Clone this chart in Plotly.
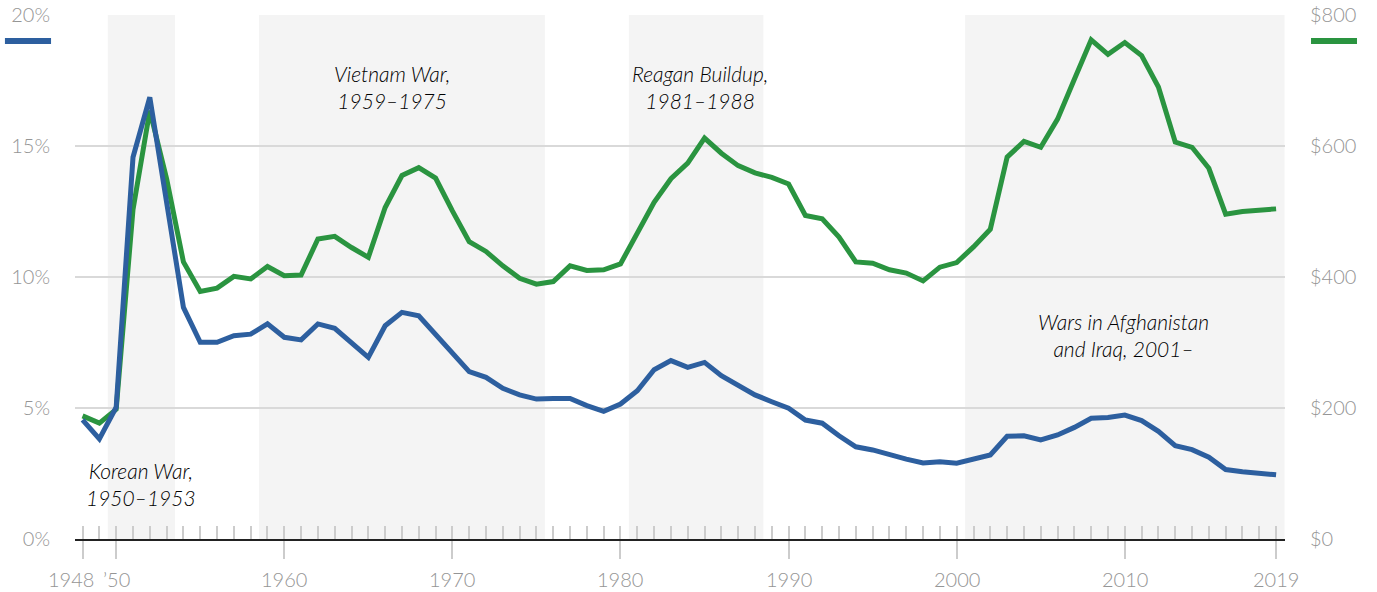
import plotly.graph_objects as go

# ---------------- data ----------------
years = list(range(1948, 2020))

pct_gdp = [4.55, 3.82, 5.03, 14.57, 16.86, 12.8, 8.84, 7.51, 7.51, 7.76,
           7.82, 8.21, 7.70, 7.60, 8.21, 8.04, 7.51, 6.93, 8.14, 8.65,
           8.52, 7.82, 7.12, 6.39, 6.17, 5.75, 5.50, 5.34, 5.36, 5.36,
           5.09, 4.87, 5.15, 5.66, 6.46, 6.81, 6.55, 6.74, 6.23, 5.85,
           5.50, 5.24, 4.99, 4.54, 4.42, 3.94, 3.52, 3.40, 3.21, 3.05,
           2.90, 2.95, 2.89, 3.05, 3.21, 3.92, 3.94, 3.78, 3.97, 4.26,
           4.61, 4.64, 4.73, 4.52, 4.11, 3.56, 3.41, 3.12, 2.65, 2.57,
           2.51, 2.45]

spending = [188, 177, 198, 503, 654, 550, 423, 378, 383, 401,
            397, 416, 402, 403, 458, 462, 445, 430, 506, 555,
            567, 551, 501, 454, 439, 417, 398, 389, 393, 417,
            410, 411, 420, 468, 514, 550, 574, 612, 589, 570,
            559, 552, 542, 494, 489, 461, 423, 421, 411, 406,
            394, 415, 422, 446, 473, 583, 607, 598, 641, 702,
            762, 740, 758, 738, 690, 606, 598, 566, 496, 500,
            502, 504]

war_labels = ["Korean War,<br>1950–1953", "Vietnam War,<br>1959–1975",
              "Reagan Buildup,<br>1981–1988", "Wars in Afghanistan<br>and Iraq, 2001–"]
war_start = [1950, 1959, 1981, 2001]
war_end = [1953, 1975, 1988, 2019]
label_year = [1951.5, 1966.4, 1984.7, 2009.9]
label_pct = [2.1, 17.25, 17.25, 7.8]

x_tick_years = [1948, 1950, 1960, 1970, 1980, 1990, 2000, 2010, 2019]
x_tick_text = ["1948", "’50", "1960", "1970", "1980", "1990", "2000", "2010", "2019"]

pct_ticks = [0, 5, 10, 15, 20]
pct_text = [f"{v}%" for v in pct_ticks]
usd_ticks = [0, 200, 400, 600, 800]
usd_text = [f"${v}" for v in usd_ticks]

# ---------------- style ----------------
BLUE = "#2d5f9f"
GREEN = "#2a9440"
GRAY_TXT = "#959595"
FONT = "Lato"
XRANGE = [1947.55, 2019.53]

fig = go.Figure()

# green (dollars) on primary y (right side), blue (% GDP) on overlaying y2 (left) so blue sits on top
fig.add_trace(go.Scatter(x=years, y=spending, mode="lines", yaxis="y", xaxis="x",
                         line=dict(color=GREEN, width=5), hoverinfo="skip"))
fig.add_trace(go.Scatter(x=years, y=pct_gdp, mode="lines", yaxis="y2", xaxis="x",
                         line=dict(color=BLUE, width=5), hoverinfo="skip"))
# dummy trace to host the minor-tick axis
fig.add_trace(go.Scatter(x=years, y=[None] * len(years), mode="lines", xaxis="x2", yaxis="y",
                         hoverinfo="skip", showlegend=False))

# shaded bands for war periods
for s, e in zip(war_start, war_end):
    fig.add_shape(type="rect", xref="x", yref="paper",
                  x0=s - 0.5, x1=min(e + 0.5, XRANGE[1]), y0=0, y1=1,
                  fillcolor="#f4f4f4", line=dict(width=0), layer="below")

# war annotations
for txt, xv, yv in zip(war_labels, label_year, label_pct):
    fig.add_annotation(x=xv, y=yv, xref="x", yref="y2", text=txt, showarrow=False,
                       font=dict(family=FONT, size=21, color="#000000", style="italic", weight=300),
                       align="center", xanchor="center", yanchor="middle")

# x tick labels
for yr, txt in zip(x_tick_years, x_tick_text):
    shift = -12 if yr == x_tick_years[0] else 0
    fig.add_annotation(x=yr, y=0, xref="x", yref="paper", text=txt, showarrow=False,
                       font=dict(family=FONT, size=20, color=GRAY_TXT, weight=300),
                       xanchor="center", yanchor="middle", yshift=-40, xshift=shift)

# legend glyphs
fig.add_shape(type="line", xref="paper", yref="paper", x0=-0.0579, x1=-0.0198,
              y0=0.9504, y1=0.9504, line=dict(color=BLUE, width=6))
fig.add_shape(type="line", xref="paper", yref="paper", x0=1.0215, x1=1.0595,
              y0=0.9504, y1=0.9504, line=dict(color=GREEN, width=6))

tickfont = dict(family=FONT, size=20, color=GRAY_TXT, weight=300)

fig.update_layout(
    width=1377, height=592,
    margin=dict(l=75, r=92, t=15, b=53, autoexpand=False),
    paper_bgcolor="white", plot_bgcolor="white",
    showlegend=False,
    font=dict(family=FONT, size=20, color=GRAY_TXT),
    xaxis=dict(range=XRANGE, showgrid=False, zeroline=False, automargin=False,
               showline=True, linecolor="#222222", linewidth=2,
               tickmode="array", tickvals=x_tick_years, showticklabels=False,
               ticks="outside", ticklen=18, tickwidth=1.5, tickcolor="#cccccc"),
    xaxis2=dict(range=XRANGE, overlaying="x", anchor="y", side="bottom", automargin=False,
                showgrid=False, zeroline=False, showline=False,
                tickmode="array", tickvals=years, showticklabels=False,
                ticks="inside", ticklen=13, tickwidth=1.5, tickcolor="#cccccc"),
    yaxis=dict(range=[0, 800], side="right", tickmode="array", tickvals=usd_ticks,
               ticktext=usd_text, automargin=False,
               showgrid=True, gridcolor="#d9d9d9", gridwidth=1.5,
               zeroline=False, showline=False, ticks="", ticklabelstandoff=24,
               tickfont=tickfont),
    yaxis2=dict(range=[0, 20], side="left", overlaying="y", tickmode="array",
                tickvals=pct_ticks, ticktext=pct_text, automargin=False,
                showgrid=False, zeroline=False,
                showline=False, ticks="", ticklabelstandoff=24,
                tickfont=tickfont),
)

fig.write_html("out.html", config={"displayModeBar": False},
               post_script="document.body.style.margin='0';")
